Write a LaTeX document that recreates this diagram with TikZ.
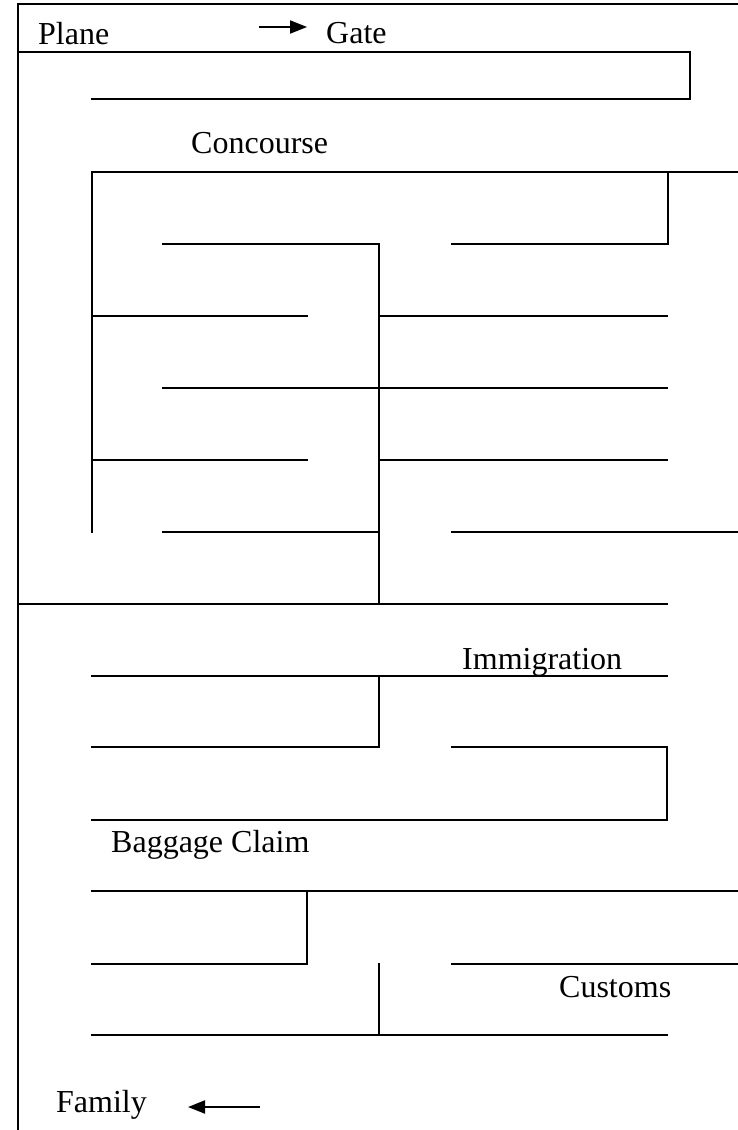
\documentclass[tikz,border=0pt]{standalone}
\usepackage{fontspec}
\setmainfont{Liberation Serif}
\usetikzlibrary{arrows.meta}
\begin{document}
\begin{tikzpicture}[x=1pt,y=-1pt,
  wall/.style={line width=2pt,line cap=rect},
  lbl/.style={anchor=base west,inner sep=0pt,font=\fontsize{32}{38}\selectfont},
  arr/.style={line width=2pt,-{Triangle[length=17pt,width=13pt]}}]
\useasboundingbox (0,0) rectangle (738,1130);
% outer frame
\draw[wall] (18,1131) -- (18,4) -- (739,4);
% gate corridor
\draw[wall] (18,52) -- (690,52) -- (690,99) -- (92,99);
% concourse
\draw[wall] (739,172) -- (92,172) -- (92,532);
\draw[wall] (668,172) -- (668,244) -- (452,244);
\draw[wall] (163,244) -- (379,244) -- (379,604);
\draw[wall] (92,316) -- (307,316);
\draw[wall] (379,316) -- (667,316);
\draw[wall] (163,388) -- (667,388);
\draw[wall] (92,460) -- (307,460);
\draw[wall] (379,460) -- (667,460);
\draw[wall] (163,532) -- (379,532);
\draw[wall] (452,532) -- (739,532);
\draw[wall] (18,604) -- (667,604);
% immigration
\draw[wall] (92,676) -- (667,676);
\draw[wall] (379,676) -- (379,747) -- (92,747);
\draw[wall] (452,747) -- (667,747) -- (667,820) -- (92,820);
% baggage / customs
\draw[wall] (92,891) -- (739,891);
\draw[wall] (307,891) -- (307,964) -- (92,964);
\draw[wall] (452,964) -- (739,964);
\draw[wall] (379,964) -- (379,1035);
\draw[wall] (92,1035) -- (667,1035);
% labels
\node[lbl] (plane) at (38,44) {Plane};
\node[lbl] (gate) at (326,43) {Gate};
\node[lbl] (conc) at (191,153) {Concourse};
\node[lbl] (immi) at (462,669) {Immigration};
\node[lbl] (bagg) at (111,852) {Baggage Claim};
\node[lbl] (cust) at (559,997) {Customs};
\node[lbl] (fam) at (56,1112) {Family};
% arrows
\coordinate (a1) at (259,27);
\coordinate (a2) at (307,27);
\coordinate (b1) at (260,1107);
\coordinate (b2) at (188,1107);
\draw[arr] (a1) -- (a2);
\draw[arr] (b1) -- (b2);
\end{tikzpicture}
\end{document}
